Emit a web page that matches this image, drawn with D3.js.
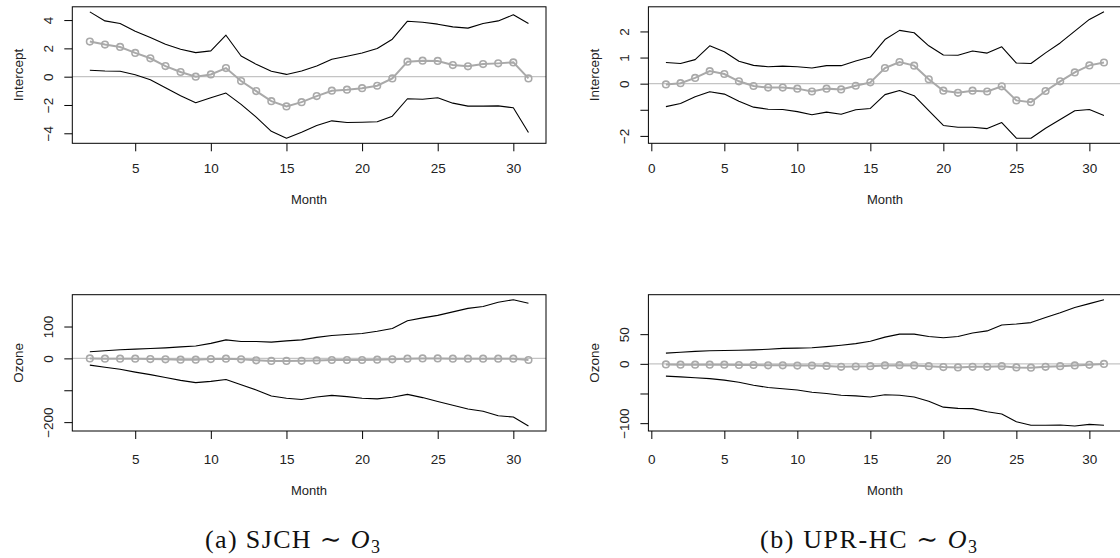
<!DOCTYPE html>
<html>
<head>
<meta charset="utf-8">
<script src="https://cdn.jsdelivr.net/npm/d3@7"></script>
<style>
  html, body { margin: 0; padding: 0; background: #fff; }
  svg { display: block; }
</style>
</head>
<body>
<svg id="chart" width="1120" height="558"></svg>
<script>
// ---- Data: time-varying coefficient estimates with 95% bands, by month ----
const monthsSJCH = d3.range(2, 32);   // 2..31
const monthsUPR  = d3.range(1, 32);   // 1..31

// (a) SJCH ~ O3 : intercept
const sjchInterceptEst = [2.48, 2.27, 2.10, 1.68, 1.30, 0.75, 0.33, 0.00, 0.16, 0.61,
  -0.31, -1.02, -1.73, -2.10, -1.80, -1.37, -0.99, -0.92, -0.81, -0.64,
  -0.12, 1.06, 1.13, 1.11, 0.82, 0.73, 0.89, 0.94, 1.01, -0.12];
const sjchInterceptUpper = [4.58, 3.94, 3.76, 3.21, 2.77, 2.29, 1.94, 1.70, 1.82, 2.93,
  1.46, 0.87, 0.38, 0.16, 0.40, 0.75, 1.23, 1.44, 1.67, 1.99,
  2.65, 3.92, 3.85, 3.71, 3.52, 3.43, 3.76, 3.94, 4.37, 3.76];
const sjchInterceptLower = [0.45, 0.40, 0.38, 0.14, -0.21, -0.78, -1.35, -1.84, -1.49, -1.16,
  -1.96, -2.86, -3.86, -4.35, -3.93, -3.45, -3.12, -3.24, -3.22, -3.18,
  -2.79, -1.56, -1.59, -1.49, -1.87, -2.08, -2.08, -2.06, -2.20, -3.95];

// (a) SJCH ~ O3 : ozone
const sjchOzoneEst = [0, -1, -1, -1, -2, -3, -4, -4, -2, -1,
  -3, -6, -8, -8, -7.5, -6.5, -5, -5, -5, -4,
  -3, -1, 0, 0, -1, -1, -1, -1, -1, -5];
const sjchOzoneUpper = [21, 24, 27, 29, 31, 33, 36, 39, 47, 58,
  53, 53, 51, 55, 58, 66, 72, 75, 78, 85,
  94, 118, 127, 135, 146, 157, 163, 176, 184, 173];
const sjchOzoneLower = [-21, -28, -34, -43, -51, -60, -69, -76, -72, -66,
  -83, -99, -118, -125, -129, -121, -116, -120, -125, -127,
  -122, -113, -123, -135, -147, -159, -166, -180, -184, -212];

// (b) UPR-HC ~ O3 : intercept
const uprInterceptEst = [-0.03, 0.02, 0.22, 0.48, 0.37, 0.09, -0.09, -0.15, -0.15, -0.19,
  -0.30, -0.19, -0.22, -0.08, 0.05, 0.60, 0.83, 0.69, 0.17, -0.27,
  -0.35, -0.27, -0.30, -0.10, -0.64, -0.71, -0.28, 0.09, 0.43, 0.70, 0.81];
const uprInterceptUpper = [0.81, 0.77, 0.92, 1.45, 1.22, 0.86, 0.70, 0.65, 0.67, 0.65,
  0.60, 0.69, 0.69, 0.87, 1.02, 1.69, 2.04, 1.95, 1.45, 1.10,
  1.09, 1.25, 1.17, 1.41, 0.79, 0.77, 1.18, 1.56, 2.01, 2.46, 2.75];
const uprInterceptLower = [-0.88, -0.76, -0.50, -0.31, -0.40, -0.67, -0.90, -0.98, -0.99, -1.07,
  -1.19, -1.09, -1.17, -1.00, -0.95, -0.42, -0.26, -0.46, -1.03, -1.60,
  -1.67, -1.67, -1.72, -1.49, -2.09, -2.09, -1.71, -1.37, -1.04, -0.99, -1.22];

// (b) UPR-HC ~ O3 : ozone
const uprOzoneEst = [-1, -1.5, -1.5, -1.5, -1.5, -2, -2, -2.5, -2.5, -3,
  -3, -3.5, -5, -4.5, -4, -2.7, -2.2, -2.7, -4, -5.5,
  -6, -5, -5, -4, -6, -6.5, -5, -4, -2.7, -1.7, -0.2];
const uprOzoneUpper = [18, 19.5, 21, 22, 22.5, 23, 23.5, 24.5, 26, 26.5,
  27, 29, 31.4, 34, 38, 45, 50, 50, 46, 44,
  46, 52, 55.5, 65.5, 67, 69.5, 78, 86, 95, 101.5, 108];
const uprOzoneLower = [-20.7, -22, -23.5, -25, -27.4, -31, -36, -40, -42, -44,
  -48, -50, -53, -54, -56, -52, -53, -56, -63, -73,
  -75, -75.5, -80.7, -84.5, -97.5, -103.5, -103.5, -103, -104.7, -102, -103.5];

// ---- Axis ticks and labels ----
const xTicksLeft  = [5, 10, 15, 20, 25, 30];
const xTicksRight = [0, 5, 10, 15, 20, 25, 30];
const yTicksSJCHInt = [-4, -2, 0, 2, 4];
const yLabelsSJCHInt = ["−4", "−2", "0", "2", "4"];
const yTicksUPRInt = [-2, -1, 0, 1, 2];
const yLabelsUPRInt = ["−2", "", "0", "1", "2"];
const yTicksSJCHOz = [-200, -100, 0, 100];
const yLabelsSJCHOz = ["−200", "", "0", "100"];
const yTicksUPROz = [-100, -50, 0, 50];
const yLabelsUPROz = ["−100", "", "0", "50"];

const xTitle = "Month";
const captionA = { pre: "(a) SJCH ∼ ", sym: "O", sub: "3" };
const captionB = { pre: "(b) UPR-HC ∼ ", sym: "O", sub: "3" };

// ---- Drawing ----
const svg = d3.select("#chart");
const sansFont = "'Liberation Sans', Arial, Helvetica, sans-serif";
const serifFont = "'Liberation Serif', 'DejaVu Serif', serif";

// R-style 4% axis extension
function extend(lo, hi) {
  const e = (hi - lo) * 0.04;
  return [lo - e, hi + e];
}

function panel(opts) {
  const { box, months, est, upper, lower, xTicks, yTicks, yLabels, yTitle } = opts;
  const g = svg.append("g");

  const x = d3.scaleLinear()
    .domain(extend(d3.min(months), d3.max(months)))
    .range([box.left, box.right]);
  const y = d3.scaleLinear()
    .domain(extend(d3.min(lower.concat(est)), d3.max(upper.concat(est))))
    .range([box.bottom, box.top]);

  // clip to the plotting region
  const clipId = "clip" + Math.round(box.left) + "_" + Math.round(box.top);
  svg.append("clipPath").attr("id", clipId)
    .append("rect")
    .attr("x", box.left).attr("y", box.top)
    .attr("width", box.right - box.left).attr("height", box.bottom - box.top);

  const plot = g.append("g").attr("clip-path", `url(#${clipId})`);

  // zero reference line
  plot.append("line")
    .attr("x1", box.left).attr("x2", box.right)
    .attr("y1", y(0)).attr("y2", y(0))
    .attr("stroke", "#c4c4c4").attr("stroke-width", 1.2);

  const line = d3.line().x((d, i) => x(months[i])).y(d => y(d));

  // confidence bands
  [upper, lower].forEach(arr => {
    plot.append("path").datum(arr)
      .attr("d", line)
      .attr("fill", "none")
      .attr("stroke", "#000")
      .attr("stroke-width", 1.1)
      .attr("stroke-linejoin", "round");
  });

  // point estimates
  plot.append("path").datum(est)
    .attr("d", line)
    .attr("fill", "none")
    .attr("stroke", "#a9a9a9")
    .attr("stroke-width", 2);
  plot.selectAll("circle.pt").data(est).enter().append("circle")
    .attr("class", "pt")
    .attr("cx", (d, i) => x(months[i]))
    .attr("cy", d => y(d))
    .attr("r", 3.3)
    .attr("fill", "none")
    .attr("stroke", "#a9a9a9")
    .attr("stroke-width", 1.6);

  // box
  g.append("rect")
    .attr("x", box.left).attr("y", box.top)
    .attr("width", box.right - box.left).attr("height", box.bottom - box.top)
    .attr("fill", "none").attr("stroke", "#000").attr("stroke-width", 1);

  // x axis
  const xAxis = d3.axisBottom(x).tickValues(xTicks).tickSize(8).tickPadding(opts.xPad)
    .tickFormat(d => String(d));
  const xg = g.append("g").attr("transform", `translate(0,${box.bottom})`).call(xAxis);
  xg.select(".domain").remove();
  xg.selectAll("line").attr("stroke", "#000");
  xg.selectAll("text")
    .attr("font-family", sansFont).attr("font-size", 13.5).attr("fill", "#222");

  // y axis, labels parallel to the axis
  const yAxis = d3.axisLeft(y).tickValues(yTicks).tickSize(8)
    .tickFormat((d, i) => yLabels[i]);
  const yg = g.append("g").attr("transform", `translate(${box.left},0)`).call(yAxis);
  yg.select(".domain").remove();
  yg.selectAll("line").attr("stroke", "#000");
  yg.selectAll("text")
    .attr("font-family", sansFont).attr("font-size", 13.5).attr("fill", "#222")
    .attr("x", 0).attr("y", 0).attr("dy", null)
    .attr("text-anchor", "middle")
    .attr("dominant-baseline", "central")
    .attr("transform", "translate(-23.5,0) rotate(-90)");

  // axis titles
  g.append("text")
    .attr("x", opts.titleX)
    .attr("y", box.bottom + opts.titleOffset)
    .attr("text-anchor", "middle")
    .attr("dominant-baseline", "central")
    .attr("font-family", sansFont).attr("font-size", 13).attr("fill", "#222")
    .text(xTitle);

  g.append("text")
    .attr("transform", `translate(${box.left - 54},${(box.top + box.bottom) / 2}) rotate(-90)`)
    .attr("text-anchor", "middle")
    .attr("dominant-baseline", "central")
    .attr("font-family", sansFont).attr("font-size", 13.5).attr("fill", "#222")
    .text(yTitle);
}

const leftBox = { left: 72.3, right: 546 };
const rightBox = { left: 648.4, right: 1121.5 };
const topRow = { top: 6.8, bottom: 143.3, xPad: 12, titleOffset: 56 };
const botRow = { top: 294.7, bottom: 431, xPad: 15, titleOffset: 59 };

function rowOpts(box, row) {
  return { box: { ...box, top: row.top, bottom: row.bottom }, xPad: row.xPad, titleOffset: row.titleOffset };
}

panel({ ...rowOpts(leftBox, topRow), months: monthsSJCH,
  est: sjchInterceptEst, upper: sjchInterceptUpper, lower: sjchInterceptLower,
  xTicks: xTicksLeft, yTicks: yTicksSJCHInt, yLabels: yLabelsSJCHInt,
  yTitle: "Intercept", titleX: 309 });
panel({ ...rowOpts(rightBox, topRow), months: monthsUPR,
  est: uprInterceptEst, upper: uprInterceptUpper, lower: uprInterceptLower,
  xTicks: xTicksRight, yTicks: yTicksUPRInt, yLabels: yLabelsUPRInt,
  yTitle: "Intercept", titleX: 885 });
panel({ ...rowOpts(leftBox, botRow), months: monthsSJCH,
  est: sjchOzoneEst, upper: sjchOzoneUpper, lower: sjchOzoneLower,
  xTicks: xTicksLeft, yTicks: yTicksSJCHOz, yLabels: yLabelsSJCHOz,
  yTitle: "Ozone", titleX: 309 });
panel({ ...rowOpts(rightBox, botRow), months: monthsUPR,
  est: uprOzoneEst, upper: uprOzoneUpper, lower: uprOzoneLower,
  xTicks: xTicksRight, yTicks: yTicksUPROz, yLabels: yLabelsUPROz,
  yTitle: "Ozone", titleX: 885 });

// sub-figure captions, spread to the width of the typeset originals
function caption(c, left, right) {
  const t = svg.append("text")
    .attr("x", left).attr("y", 548)
    .attr("text-anchor", "start")
    .attr("textLength", right - left)
    .attr("lengthAdjust", "spacing")
    .attr("font-family", serifFont).attr("font-size", 26).attr("fill", "#111");
  t.append("tspan").text(c.pre);
  t.append("tspan").attr("font-style", "italic").text(c.sym);
  t.append("tspan").attr("font-size", 18).attr("dy", 5).text(c.sub);
}
caption(captionA, 205, 380);
caption(captionB, 760, 977);
</script>
</body>
</html>
